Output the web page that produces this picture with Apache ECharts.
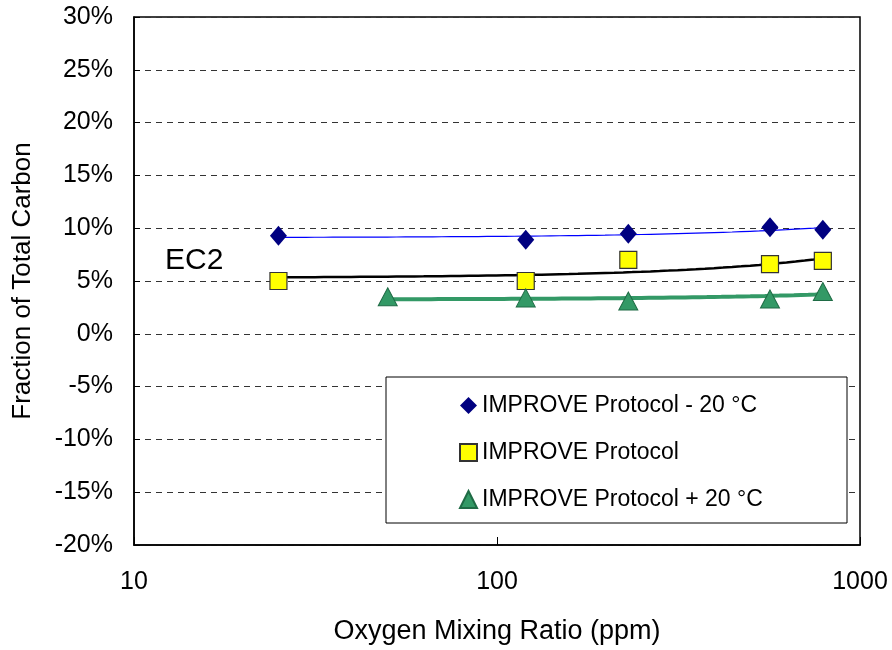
<!DOCTYPE html>
<html>
<head>
<meta charset="utf-8">
<script src="https://cdn.jsdelivr.net/npm/echarts@6/dist/echarts.min.js"></script>
<style>html,body{margin:0;padding:0;background:#fff}#c{width:892px;height:650px}</style>
</head>
<body>
<div id="c"></div>
<script>
// Data (oxygen mixing ratio in ppm, fraction of total carbon in %)
const seriesNames = ['IMPROVE Protocol - 20 °C', 'IMPROVE Protocol', 'IMPROVE Protocol + 20 °C'];
const xMinus20 = [25, 120, 230, 565, 790];
const yMinus20 = [9.28, 8.9, 9.47, 10.1, 9.85];
const xBase = [25, 120, 230, 565, 790];
const yBase = [5.0, 5.0, 7.0, 6.6, 6.9];
const xPlus20 = [50, 120, 230, 565, 790];
const yPlus20 = [3.5, 3.4, 3.1, 3.3, 4.0];
const xTicks = [10, 100, 1000];
const yTicks = [-20, -15, -10, -5, 0, 5, 10, 15, 20, 25, 30];
const annotation = 'EC2';

function pairs(xs, ys) { return xs.map((x, i) => [x, ys[i]]); }
// linear least-squares trendline, sampled along log-x range
function trend(xs, ys) {
  const n = xs.length;
  const mx = xs.reduce((a, b) => a + b, 0) / n;
  const my = ys.reduce((a, b) => a + b, 0) / n;
  let sxx = 0, sxy = 0;
  for (let i = 0; i < n; i++) { sxx += (xs[i] - mx) ** 2; sxy += (xs[i] - mx) * (ys[i] - my); }
  const b = sxy / sxx, a = my - b * mx;
  const lo = Math.min(...xs), hi = Math.max(...xs);
  const out = [];
  const steps = 60;
  for (let k = 0; k <= steps; k++) {
    const x = Math.pow(10, Math.log10(lo) + (Math.log10(hi) - Math.log10(lo)) * k / steps);
    out.push([x, a + b * x]);
  }
  return out;
}

const chart = echarts.init(document.getElementById('c'), null, { renderer: 'canvas' });
const font = 'Liberation Sans, Arial, sans-serif';
chart.setOption({
  backgroundColor: '#fff',
  animation: false,
  textStyle: { fontFamily: font },
  grid: { left: 134, right: 32, top: 17, bottom: 104, show: true, borderColor: '#000', borderWidth: 1.5, backgroundColor: 'transparent' },
  xAxis: {
    type: 'log', logBase: 10, min: xTicks[0], max: xTicks[xTicks.length - 1],
    name: 'Oxygen Mixing Ratio (ppm)', nameLocation: 'middle', nameGap: 73,
    nameTextStyle: { fontSize: 27, color: '#000', fontFamily: font },
    axisLine: { onZero: false, lineStyle: { color: '#000', width: 1.5 } },
    axisTick: { inside: true, length: 8, lineStyle: { color: '#000' } },
    minorTick: { show: false },
    axisLabel: { fontSize: 25, color: '#000', margin: 25, fontFamily: font, formatter: v => String(v) },
    splitLine: { show: false }
  },
  yAxis: {
    type: 'value', min: yTicks[0], max: yTicks[yTicks.length - 1], interval: 5,
    name: 'Fraction of Total Carbon', nameLocation: 'middle', nameGap: 98, nameRotate: 90,
    nameTextStyle: { fontSize: 26, color: '#000', fontFamily: font },
    axisLine: { lineStyle: { color: '#000', width: 1.5 } },
    axisTick: { inside: true, length: 6, lineStyle: { color: '#000' } },
    axisLabel: { fontSize: 25, color: '#000', margin: 21, formatter: '{value}%', fontFamily: font },
    splitLine: { show: true, lineStyle: { color: '#333', type: [6, 5], width: 1 } }
  },
  legend: {
    data: seriesNames, orient: 'vertical', left: 454, top: 389, itemGap: 24,
    itemWidth: 17, itemHeight: 17, z: 20,
    textStyle: { fontSize: 23, color: '#000', fontFamily: font }
  },
  graphic: [
    { type: 'rect', z: 10, shape: { x: 386, y: 377, width: 461, height: 146 }, style: { fill: '#fff', stroke: '#000', lineWidth: 1 } },
    { type: 'text', z: 10, left: 165, top: 246, style: { text: annotation, fontSize: 30, fill: '#000', fontFamily: font } }
  ],
  series: [
    { name: 'trend1', type: 'line', data: trend(xMinus20, yMinus20), showSymbol: false, symbol: 'none', silent: true, lineStyle: { color: '#0000FF', width: 1.2 }, z: 2 },
    { name: 'trend2', type: 'line', data: trend(xBase, yBase), showSymbol: false, symbol: 'none', silent: true, lineStyle: { color: '#000', width: 2.5 }, z: 2 },
    { name: 'trend3', type: 'line', data: trend(xPlus20, yPlus20), showSymbol: false, symbol: 'none', silent: true, lineStyle: { color: '#339966', width: 4 }, z: 2 },
    { name: seriesNames[0], type: 'scatter', data: pairs(xMinus20, yMinus20), symbol: 'diamond', symbolSize: [17, 20], itemStyle: { color: '#000080', borderWidth: 0, opacity: 1 }, z: 3 },
    { name: seriesNames[1], type: 'scatter', data: pairs(xBase, yBase), symbol: 'rect', symbolSize: [17, 17], itemStyle: { color: '#FFFF00', borderColor: '#333', borderWidth: 1.2, opacity: 1 }, z: 3 },
    { name: seriesNames[2], type: 'scatter', data: pairs(xPlus20, yPlus20), symbol: 'triangle', symbolSize: [19, 18], itemStyle: { color: '#339966', borderColor: '#1f6b45', borderWidth: 1, opacity: 1 }, z: 3 }
  ]
});
</script>
</body>
</html>
